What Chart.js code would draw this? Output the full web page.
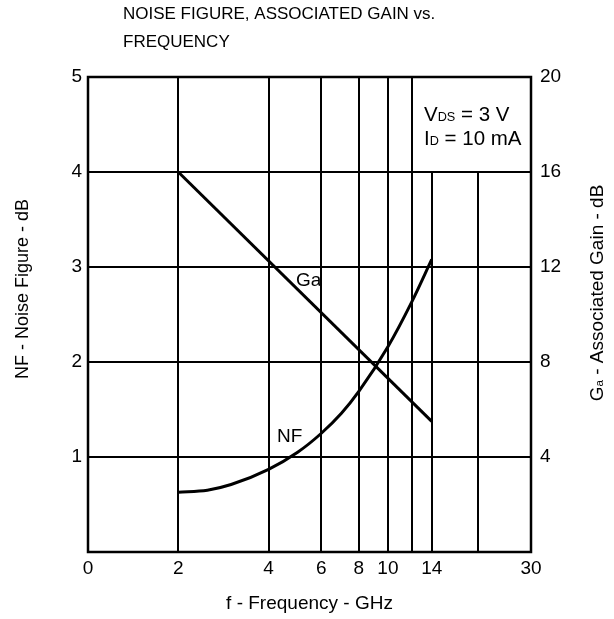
<!DOCTYPE html>
<html>
<head>
<meta charset="utf-8">
<script src="https://cdn.jsdelivr.net/npm/chart.js@4"></script>
<style>
  body { margin: 0; background: #fff; }
  #wrap { width: 614px; height: 619px; position: relative; }
</style>
</head>
<body>
<div id="wrap"><canvas id="nfChart"></canvas></div>
<script>
// frequency ticks (GHz), log axis; "0" sits at the 1 GHz position
const freqTicks = [1, 2, 4, 6, 8, 10, 12, 14, 20, 30];
const freqLabels = ['0', '2', '4', '6', '8', '10', '', '14', '', '30'];
const shortGridFreqs = [14, 20]; // these grid lines stop at the NF = 4 line

// noise figure (dB) vs frequency
const nfFreq = [2, 2.5, 3, 4, 5, 6, 7, 8, 10, 12, 14];
const nfValues = [0.63, 0.65, 0.71, 0.87, 1.05, 1.25, 1.46, 1.69, 2.16, 2.63, 3.08];

// associated gain (dB) vs frequency
const gaFreq = [2, 14];
const gaValues = [16, 5.5];

const nfTicks = [1, 2, 3, 4, 5];
const gaTicks = [4, 8, 12, 16, 20];

const FONT = '"Liberation Sans", Arial, sans-serif';

function drawSubText(ctx, x, y, parts, size) {
  // parts: [[text, isSub], ...] drawn left to right on baseline y
  let cx = x;
  parts.forEach(([t, sub]) => {
    ctx.font = (sub ? size * 0.62 : size) + 'px ' + FONT;
    ctx.fillText(t, cx, y);
    cx += ctx.measureText(t).width;
  });
  return cx - x;
}

const gridPlugin = {
  id: 'gridPlugin',
  beforeDatasetsDraw(chart) {
    const ctx = chart.ctx;
    const a = chart.chartArea;
    const xs = chart.scales.x, ys = chart.scales.y;
    ctx.save();
    ctx.strokeStyle = '#000';
    ctx.lineWidth = 2;
    nfTicks.slice(0, -1).forEach(v => {
      const y = Math.round(ys.getPixelForValue(v));
      ctx.beginPath(); ctx.moveTo(a.left, y); ctx.lineTo(a.right, y); ctx.stroke();
    });
    const y4 = ys.getPixelForValue(4);
    freqTicks.slice(1, -1).forEach(f => {
      const x = Math.round(xs.getPixelForValue(f));
      const top = shortGridFreqs.includes(f) ? y4 : a.top;
      ctx.beginPath(); ctx.moveTo(x, top); ctx.lineTo(x, a.bottom); ctx.stroke();
    });
    ctx.lineWidth = 2.5;
    ctx.strokeRect(a.left, a.top, a.right - a.left, a.bottom - a.top);
    ctx.restore();
  },
  afterDraw(chart) {
    const ctx = chart.ctx;
    const a = chart.chartArea;
    ctx.save();
    ctx.fillStyle = '#000';
    ctx.textBaseline = 'middle';
    ctx.font = '17px ' + FONT;
    ctx.fillText('NOISE FIGURE, ASSOCIATED GAIN vs.', 123, 14);
    ctx.fillText('FREQUENCY', 123, 42);

    // axis titles
    ctx.textAlign = 'center';
    ctx.font = '19px ' + FONT;
    ctx.fillText('f - Frequency - GHz', (a.left + a.right) / 2, 604);
    ctx.save();
    ctx.translate(23, 289);
    ctx.rotate(-Math.PI / 2);
    ctx.font = '18px ' + FONT;
    ctx.fillText('NF - Noise Figure - dB', 0, 0);
    ctx.restore();

    ctx.save();
    ctx.translate(596, 293);
    ctx.rotate(-Math.PI / 2);
    ctx.textAlign = 'left';
    ctx.textBaseline = 'alphabetic';
    const parts = [['G', false], ['a', true], [' - Associated Gain - dB', false]];
    let w = 0;
    parts.forEach(([t, sub]) => { ctx.font = (sub ? 19 * 0.62 : 19) + 'px ' + FONT; w += ctx.measureText(t).width; });
    drawSubText(ctx, -w / 2, 7, parts, 19);
    ctx.restore();

    // curve labels
    ctx.textAlign = 'left';
    ctx.textBaseline = 'alphabetic';
    ctx.font = '19px ' + FONT;
    ctx.fillText('Ga', 296, 286);
    ctx.fillText('NF', 277, 442);

    // bias conditions
    drawSubText(ctx, 424, 121, [['V', false], ['DS', true], [' = 3 V', false]], 20.5);
    drawSubText(ctx, 424, 145, [['I', false], ['D', true], [' = 10 mA', false]], 20.5);
    ctx.restore();
  }
};

new Chart(document.getElementById('nfChart'), {
  type: 'line',
  data: {
    datasets: [
      {
        label: 'NF',
        data: nfFreq.map((f, i) => ({ x: f, y: nfValues[i] })),
        yAxisID: 'y',
        borderColor: '#000',
        borderWidth: 3,
        pointRadius: 0,
        cubicInterpolationMode: 'monotone',
        fill: false
      },
      {
        label: 'Ga',
        data: gaFreq.map((f, i) => ({ x: f, y: gaValues[i] })),
        yAxisID: 'y2',
        borderColor: '#000',
        borderWidth: 3,
        pointRadius: 0,
        fill: false
      }
    ]
  },
  options: {
    responsive: true,
    maintainAspectRatio: false,
    animation: false,
    layout: { padding: { top: 77, left: 0, right: 0, bottom: 0 } },
    plugins: { legend: { display: false }, tooltip: { enabled: false }, title: { display: false } },
    scales: {
      x: {
        type: 'logarithmic',
        min: 1,
        max: 30,
        afterBuildTicks: s => { s.ticks = freqTicks.map(v => ({ value: v })); },
        afterFit: s => { s.height = 67; },
        grid: { display: false, drawTicks: false },
        border: { display: false },
        ticks: {
          autoSkip: false,
          maxRotation: 0,
          padding: 5,
          color: '#000',
          font: { size: 19, family: FONT },
          callback: (v) => { const i = freqTicks.indexOf(v); return i >= 0 ? freqLabels[i] : ''; }
        }
      },
      y: {
        position: 'left',
        min: 0,
        max: 5,
        afterBuildTicks: s => { s.ticks = nfTicks.map(v => ({ value: v })); },
        afterFit: s => { s.width = 88; },
        grid: { display: false, drawTicks: false },
        border: { display: false },
        ticks: { padding: 6, color: '#000', font: { size: 19, family: FONT } }
      },
      y2: {
        position: 'right',
        min: 0,
        max: 20,
        afterBuildTicks: s => { s.ticks = gaTicks.map(v => ({ value: v })); },
        afterFit: s => { s.width = 83; },
        grid: { display: false, drawTicks: false },
        border: { display: false },
        ticks: { padding: 9, color: '#000', font: { size: 19, family: FONT } }
      }
    }
  },
  plugins: [gridPlugin]
});
</script>
</body>
</html>
